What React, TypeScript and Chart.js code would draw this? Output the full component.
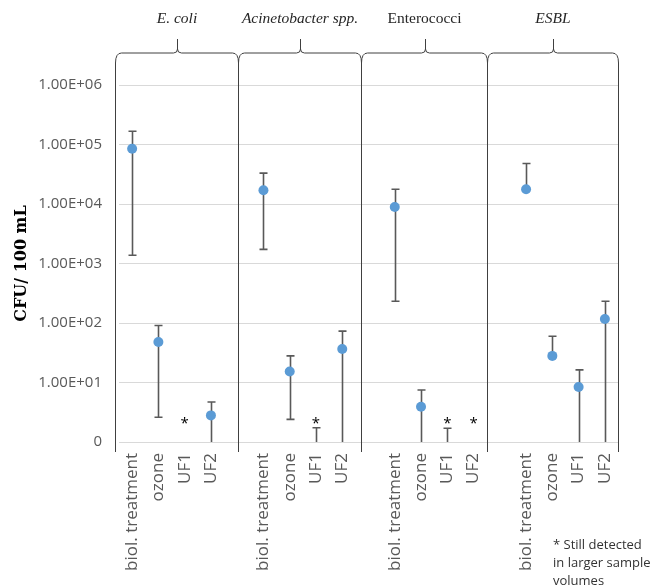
import React, { useEffect, useRef } from 'react';
import { Chart, registerables } from 'chart.js';

Chart.register(...registerables);

// ---- data ----
const groupNames = ['E. coli', 'Acinetobacter spp.', 'Enterococci', 'ESBL'];
const groupItalic = [true, true, false, true];
const treatments = ['biol. treatment', 'ozone', 'UF1', 'UF2'];

// 16 values: 4 groups x [biol. treatment, ozone, UF1, UF2]  (CFU / 100 mL)
const meanCFU = [85000, 48, null, 2.8, 17000, 15.3, null, 36.5, 8900, 3.9, null, null, 17700, 28, 8.4, 117];
const lowerCFU = [1380, 2.6, null, 1, 1730, 2.4, 1, 1, 232, 1, 1, null, null, null, 1, 1];
const upperCFU = [167000, 91, null, 4.7, 33000, 28, 1.74, 73, 17700, 7.5, 1.7, null, 48000, 60, 16.3, 232];
const stillDetected = [false, false, true, false, false, false, true, false, false, false, true, true, false, false, false, false];

const yTickValues = [1, 10, 100, 1000, 10000, 100000, 1000000];
const yTickLabels = ['0', '1.00E+01', '1.00E+02', '1.00E+03', '1.00E+04', '1.00E+05', '1.00E+06'];
const yTitle = 'CFU/ 100 mL';
const asteriskLevel = 2.2;
// panel separators in category-index units
const panelEdges = [-0.65, 4.03, 8.71, 13.51, 18.5];
const footnoteLines = ['* Still detected', 'in larger sample', 'volumes'];

// ---- build 19 slots (gap slot between groups) ----
const labels: string[] = [];
const slotMean: (number | null)[] = [];
const slotLow: (number | null)[] = [];
const slotHigh: (number | null)[] = [];
const slotStar: boolean[] = [];
groupNames.forEach((_, g) => {
  if (g > 0) {
    labels.push('');
    slotMean.push(null);
    slotLow.push(null);
    slotHigh.push(null);
    slotStar.push(false);
  }
  treatments.forEach((t, k) => {
    const i = g * 4 + k;
    labels.push(t);
    slotMean.push(meanCFU[i]);
    slotLow.push(lowerCFU[i]);
    slotHigh.push(upperCFU[i]);
    slotStar.push(stillDetected[i]);
  });
});

const SANS = '"Open Sans", sans-serif';
const SERIF = '"Liberation Serif", serif';

const errorBarPlugin = {
  id: 'errorBars',
  beforeDatasetsDraw(chart: any) {
    const ctx = chart.ctx;
    const xs = chart.scales.x;
    const ys = chart.scales.y;
    const yMin = ys.min;
    ctx.save();
    ctx.strokeStyle = '#595959';
    ctx.lineWidth = 1.6;
    const cap = 4;
    for (let i = 0; i < labels.length; i++) {
      const m = slotMean[i];
      const lo = slotLow[i];
      const hi = slotHigh[i];
      if (lo == null && hi == null) continue;
      const x = Math.round(xs.getPixelForValue(i)) + 0.5;
      const yA = ys.getPixelForValue(lo != null ? lo : (m as number));
      const yB = ys.getPixelForValue(hi != null ? hi : (m as number));
      ctx.beginPath();
      ctx.moveTo(x, yA);
      ctx.lineTo(x, yB);
      if (hi != null) {
        ctx.moveTo(x - cap, yB);
        ctx.lineTo(x + cap, yB);
      }
      if (lo != null && lo > yMin) {
        ctx.moveTo(x - cap, yA);
        ctx.lineTo(x + cap, yA);
      }
      ctx.stroke();
    }
    ctx.restore();
  },
};

const decorPlugin = {
  id: 'decor',
  afterDraw(chart: any) {
    const ctx = chart.ctx;
    const xs = chart.scales.x;
    const ys = chart.scales.y;
    const area = chart.chartArea;
    ctx.save();

    // braces and panel lines
    const edgesPx = panelEdges.map((e) => xs.getPixelForValue(e));
    const hY = area.top - 32; // horizontal of brace
    const tipY = area.top - 46; // bump top
    const vTop = area.top - 22; // start of vertical lines
    const vBottom = area.bottom + 10;
    const r = 6;
    ctx.strokeStyle = '#404040';
    ctx.lineWidth = 1;
    edgesPx.forEach((x) => {
      const xx = Math.round(x) + 0.5;
      ctx.beginPath();
      ctx.moveTo(xx, vTop);
      ctx.lineTo(xx, vBottom);
      ctx.stroke();
    });
    for (let g = 0; g < groupNames.length; g++) {
      const l = Math.round(edgesPx[g]) + 0.5;
      const rr = Math.round(edgesPx[g + 1]) + 0.5;
      const mid = Math.round((l + rr) / 2) + 0.5;
      ctx.beginPath();
      ctx.moveTo(l, vTop);
      ctx.quadraticCurveTo(l, hY, l + r, hY);
      ctx.lineTo(mid - 4, hY);
      ctx.quadraticCurveTo(mid, hY, mid, hY - 4);
      ctx.lineTo(mid, tipY);
      ctx.moveTo(mid, hY - 4);
      ctx.quadraticCurveTo(mid, hY, mid + 4, hY);
      ctx.lineTo(rr - r, hY);
      ctx.quadraticCurveTo(rr, hY, rr, vTop);
      ctx.stroke();

      ctx.fillStyle = '#262626';
      ctx.font = (groupItalic[g] ? 'italic ' : '') + '15.5px ' + SERIF;
      ctx.textAlign = 'center';
      ctx.textBaseline = 'middle';
      ctx.fillText(groupNames[g], (l + rr) / 2, area.top - 66);
    }

    // asterisks
    ctx.fillStyle = '#000000';
    ctx.font = '15px ' + SANS;
    ctx.textAlign = 'center';
    ctx.textBaseline = 'alphabetic';
    for (let i = 0; i < labels.length; i++) {
      if (!slotStar[i]) continue;
      const x = xs.getPixelForValue(i);
      const y = ys.getPixelForValue(asteriskLevel);
      ctx.fillText('*', x, y + 6);
    }

    // footnote
    ctx.fillStyle = '#333333';
    ctx.font = '13px ' + SANS;
    ctx.textAlign = 'left';
    ctx.textBaseline = 'middle';
    footnoteLines.forEach((t, k) => {
      ctx.fillText(t, area.right - 65, area.bottom + 103 + k * 18);
    });
    ctx.restore();
  },
};

export default function App() {
  const ref = useRef<HTMLCanvasElement | null>(null);
  useEffect(() => {
    if (!ref.current) return;
    const chart = new Chart(ref.current, {
      type: 'line',
      data: {
        labels,
        datasets: [
          {
            data: slotMean,
            showLine: false,
            pointRadius: 5,
            pointHoverRadius: 5,
            pointBackgroundColor: '#5B9BD5',
            pointBorderWidth: 0,
            borderColor: '#5B9BD5',
            backgroundColor: '#5B9BD5',
          },
        ],
      },
      options: {
        animation: false,
        responsive: false,
        maintainAspectRatio: false,
        layout: { padding: { top: 85, right: 33, bottom: 0, left: 0 } },
        plugins: { legend: { display: false }, tooltip: { enabled: false } },
        scales: {
          x: {
            type: 'category',
            offset: true,
            grid: { display: false, drawTicks: false },
            border: { display: false },
            ticks: {
              autoSkip: false,
              maxRotation: 90,
              minRotation: 90,
              padding: 11,
              color: '#595959',
              font: { family: SANS, size: 17 },
            },
            afterFit(s: any) {
              s.height = 145;
            },
          },
          y: {
            type: 'logarithmic',
            min: 1,
            max: 1000000,
            grid: { color: '#d9d9d9', lineWidth: 1, drawTicks: false },
            border: { display: false },
            afterBuildTicks(s: any) {
              s.ticks = yTickValues.map((v) => ({ value: v }));
            },
            ticks: {
              padding: 17,
              color: '#595959',
              font: { family: SANS, size: 15 },
              callback: (_v: any, idx: number) => yTickLabels[idx],
            },
            title: {
              display: true,
              text: yTitle,
              color: '#000000',
              font: { family: '"DejaVu Serif", serif', size: 16, weight: 'bold' },
              padding: { top: 12, bottom: 0 },
            },
            afterFit(s: any) {
              s.width = 119;
            },
          },
        },
      },
      plugins: [errorBarPlugin, decorPlugin],
    });
    return () => chart.destroy();
  }, []);
  return (
    <div style={{ position: 'fixed', left: 0, top: 0, width: 651, height: 587, background: '#ffffff' }}>
      <canvas ref={ref} width={651} height={587} style={{ width: 651, height: 587, display: 'block' }} />
    </div>
  );
}
